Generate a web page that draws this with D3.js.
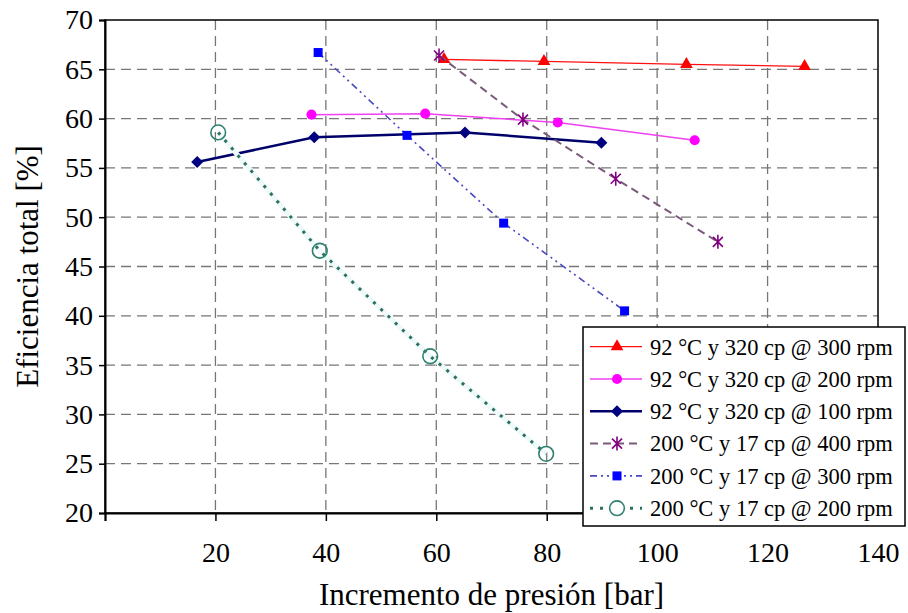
<!DOCTYPE html>
<html><head><meta charset="utf-8">
<script src="https://cdn.jsdelivr.net/npm/d3@7"></script>
<style>body{margin:0;background:#fff}svg{display:block}text{font-family:"Liberation Serif","Times New Roman",serif;fill:#000}</style>
</head><body>
<svg id="c" width="908" height="613"></svg>
<script>
const seriesNames = ["92 °C y 320 cp @ 300 rpm","92 °C y 320 cp @ 200 rpm","92 °C y 320 cp @ 100 rpm","200 °C y 17 cp @ 400 rpm","200 °C y 17 cp @ 300 rpm","200 °C y 17 cp @ 200 rpm"];
const s300x = [61.4, 79.5, 105.3, 126.7];
const s300y = [66.0, 65.8, 65.5, 65.3];
const s200x = [37.4, 58.0, 82.0, 106.8];
const s200y = [60.4, 60.5, 59.6, 57.8];
const s100x = [16.7, 37.9, 65.2, 89.9];
const s100y = [55.6, 58.1, 58.6, 57.55];
const t400x = [60.5, 75.7, 92.5, 111.0];
const t400y = [66.4, 59.9, 53.9, 47.5];
const t300x = [38.6, 54.7, 72.2, 94.1];
const t300y = [66.7, 58.3, 49.4, 40.5];
const t200x = [20.5, 38.9, 58.9, 79.9];
const t200y = [58.6, 46.6, 35.9, 26.0];
const xTicks = [0,20,40,60,80,100,120,140];
const yTicks = [20,25,30,35,40,45,50,55,60,65,70];
const xTitle = "Incremento de presión [bar]";
const yTitle = "Eficiencia total [%]";

const svg = d3.select("#c");
const L=105,R=878,T=20,B=513;
const x = d3.scaleLinear().domain([0,140]).range([L,R]);
const y = d3.scaleLinear().domain([20,70]).range([B,T]);

// grid
const grid = svg.append("g").attr("stroke","#777").attr("stroke-width",1.3).attr("stroke-dasharray","10,6");
xTicks.filter(v=>v>0&&v<140).forEach(v=>grid.append("line").attr("x1",x(v)).attr("x2",x(v)).attr("y1",T).attr("y2",B));
yTicks.filter(v=>v>20&&v<70).forEach(v=>grid.append("line").attr("y1",y(v)).attr("y2",y(v)).attr("x1",L).attr("x2",R));

// frame
svg.append("rect").attr("x",L).attr("y",T).attr("width",R-L).attr("height",B-T).attr("fill","none").attr("stroke","#000").attr("stroke-width",1.5);

// axes
const xa = svg.append("g").attr("transform",`translate(0,${B})`)
  .call(d3.axisBottom(x).tickValues(xTicks).tickSize(8).tickFormat(d=>d===0?"":d));
xa.select(".domain").attr("stroke-width",2);
xa.selectAll(".tick line").attr("stroke-width",1.5);
xa.selectAll("text").attr("font-size",28).attr("y",49).attr("dy",0).attr("font-family","Liberation Serif, Times New Roman, serif");
const ya = svg.append("g").attr("transform",`translate(${L},0)`)
  .call(d3.axisLeft(y).tickValues(yTicks).tickSize(6).tickPadding(6));
ya.select(".domain").attr("stroke-width",2);
ya.selectAll(".tick line").attr("stroke-width",1.5);
ya.selectAll("text").attr("font-size",28).attr("font-family","Liberation Serif, Times New Roman, serif");

svg.append("text").attr("x",(L+R)/2).attr("y",605).attr("text-anchor","middle").attr("font-size",31).text(xTitle);
svg.append("text").attr("transform",`translate(38,${(T+B)/2}) rotate(-90)`).attr("text-anchor","middle").attr("font-size",31).text(yTitle);

// marker paths
const tri = d3.symbol().type(d3.symbolTriangle).size(70)();
const circ = d3.symbol().type(d3.symbolCircle).size(80)();
const diam = "M0,-6L6,0L0,6L-6,0Z";
const sq = "M-4.5,-4.5H4.5V4.5H-4.5Z";
const star = "M0,-7V7M-5,-5L5,5M-5,5L5,-5";
const ocirc = d3.symbol().type(d3.symbolCircle).size(170)();

const series = [
  {xs:s300x, ys:s300y, color:"#ff1010", w:1.3, dash:null, m:tri, mfill:"#ff0000", mstroke:"none"},
  {xs:s200x, ys:s200y, color:"#f040f0", w:1.5, dash:null, m:circ, mfill:"#ff00ff", mstroke:"none"},
  {xs:s100x, ys:s100y, color:"#00006a", w:2.5, dash:null, m:diam, mfill:"#000080", mstroke:"none"},
  {xs:t400x, ys:t400y, color:"#7a5a7a", w:2, dash:"8,5", m:star, mfill:"none", mstroke:"#800080"},
  {xs:t300x, ys:t300y, color:"#4848c0", w:1.6, dash:"7,4,2,4,2,4", m:sq, mfill:"#0000ff", mstroke:"none"},
  {xs:t200x, ys:t200y, color:"#2e7060", w:3, dash:"3,7", m:ocirc, mfill:"none", mstroke:"#2e8070", halo:true}
];

const line = d3.line();
series.forEach(s=>{
  const pts = s.xs.map((v,i)=>[x(v),y(s.ys[i])]);
  if(s.halo) svg.append("path").attr("d",line(pts)).attr("fill","none").attr("stroke","#eefafa").attr("stroke-width",5);
  svg.append("path").attr("d",line(pts)).attr("fill","none").attr("stroke",s.color).attr("stroke-width",s.w).attr("stroke-dasharray",s.dash);
  svg.append("g").selectAll("path").data(pts).join("path")
    .attr("transform",d=>`translate(${d[0]},${d[1]})`).attr("d",s.m)
    .attr("fill",s.mfill).attr("stroke",s.mstroke).attr("stroke-width",1.6);
});

// legend
const lg = svg.append("g");
lg.append("rect").attr("x",583).attr("y",327).attr("width",322).attr("height",199).attr("fill","#fff").attr("stroke","#000").attr("stroke-width",1.5);
series.forEach((s,i)=>{
  const cy = 346.7 + i*32.3;
  lg.append("line").attr("x1",590).attr("x2",642).attr("y1",cy).attr("y2",cy).attr("stroke",s.color).attr("stroke-width",s.w).attr("stroke-dasharray",s.dash);
  lg.append("path").attr("transform",`translate(617,${cy})`).attr("d",s.m).attr("fill",s.halo?"#fff":s.mfill).attr("stroke",s.mstroke).attr("stroke-width",1.6);
  lg.append("text").attr("x",650).attr("y",cy).attr("dy","0.35em").attr("font-size",22.5).text(seriesNames[i]);
});
</script>
</body></html>
